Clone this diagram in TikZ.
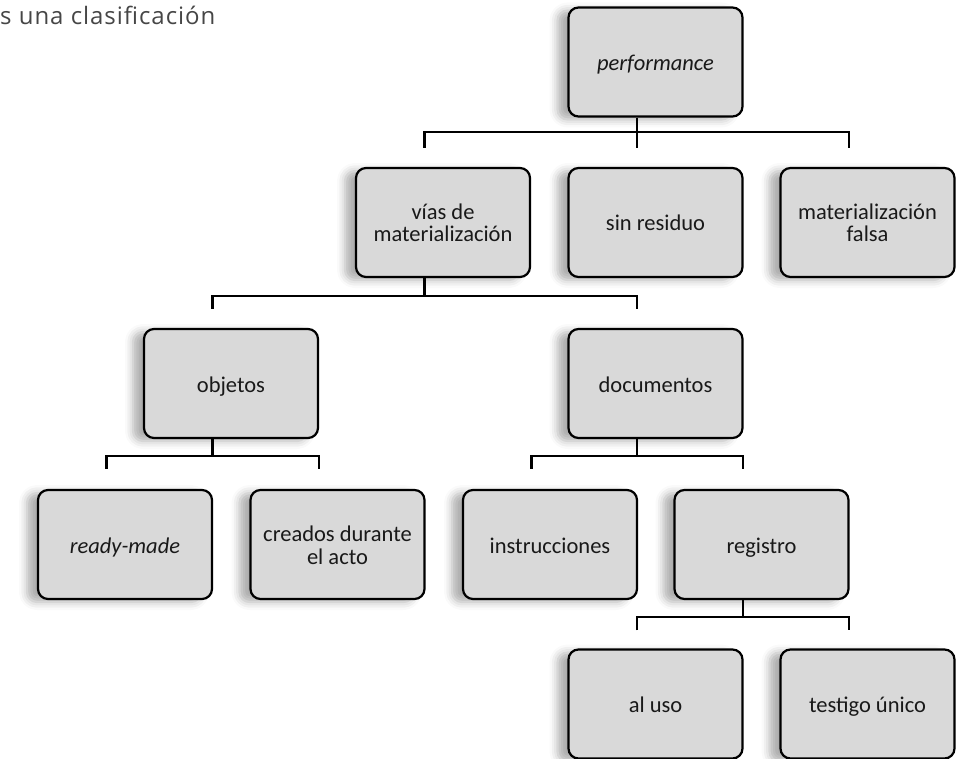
\documentclass[tikz,border=0pt]{standalone}
\usepackage{fontspec}
\setmainfont{Carlito}
\newfontfamily\headfont[LetterSpace=4]{Open Sans}
\usetikzlibrary{shadows.blur}
\definecolor{boxgray}{RGB}{217,217,217}
\definecolor{textgray}{RGB}{25,25,25}
\definecolor{headgray}{RGB}{70,70,70}
\newcommand\boxone[1]{\raisebox{-8.5pt}[0pt][0pt]{#1}}
\newcommand\boxtwo[2]{\raisebox{-19.5pt}[0pt][0pt]{\begin{tabular}[b]{@{}c@{}}#1\\#2\end{tabular}}}
\begin{document}
\begin{tikzpicture}[x=1pt,y=-1pt,
  box/.style={draw=black, line width=2.2pt, rounded corners=10pt, fill=boxgray,
    minimum width=174pt, minimum height=109pt, inner sep=0pt,
    font=\fontsize{22.5}{22}\selectfont, text=textgray,
    blur shadow={shadow xshift=-11pt, shadow yshift=-3pt, shadow opacity=32, shadow blur radius=8pt}},
  conn/.style={draw=black, line width=2.2pt}]
\useasboundingbox (0,0) rectangle (966,759);

\node[anchor=base west, inner sep=0pt, text=headgray, font=\headfont\fontsize{24}{26}\selectfont] (intro) at (0,25) {s una clasificación};

% level 1
\node[box] (perf) at (655.5,62) {\boxone{\itshape performance}};
% level 2
\node[box] (vias) at (443,222.5) {\boxtwo{vías de}{materialización}};
\node[box] (sinres) at (655.5,222.5) {\boxone{sin residuo}};
\node[box] (falsa) at (867.5,222.5) {\boxtwo{materialización}{falsa}};
% level 3
\node[box] (obj) at (231,383.5) {\boxone{objetos}};
\node[box] (docs) at (655.5,383.5) {\boxone{documentos}};
% level 4
\node[box] (ready) at (125,544.5) {\boxone{\itshape ready-made}};
\node[box] (creados) at (337.5,544.5) {\boxtwo{creados durante}{el acto}};
\node[box] (instr) at (550,544.5) {\boxone{instrucciones}};
\node[box] (reg) at (761.5,544.5) {\boxone{registro}};
% level 5
\node[box] (aluso) at (655.5,704) {\boxone{al uso}};
\node[box] (testigo) at (867.5,704) {\boxone{testigo único}};

% connectors level 1 -> 2
\draw[conn] ([xshift=-18.5pt]perf.south) -- ([xshift=-18.5pt,yshift=19pt]sinres.north);
\draw[conn] ([xshift=-18.5pt,yshift=19pt]vias.north) |- ([xshift=-18.5pt,yshift=35pt]sinres.north) -| ([xshift=-18.5pt,yshift=19pt]falsa.north);
% level 2 -> 3
\draw[conn] ([xshift=-18.5pt]vias.south) -- ([xshift=-18.5pt,yshift=-18pt]vias.south);
\draw[conn] ([xshift=-18.5pt,yshift=19pt]obj.north) |- ([xshift=-18.5pt,yshift=-18pt]vias.south) -| ([xshift=-18.5pt,yshift=19pt]docs.north);
% objetos -> level 4
\draw[conn] ([xshift=-18.5pt]obj.south) -- ([xshift=-18.5pt,yshift=-17pt]obj.south);
\draw[conn] ([xshift=-18.5pt,yshift=20pt]ready.north) |- ([xshift=-18.5pt,yshift=-17pt]obj.south) -| ([xshift=-18.5pt,yshift=20pt]creados.north);
% documentos -> level 4
\draw[conn] ([xshift=-18.5pt]docs.south) -- ([xshift=-18.5pt,yshift=-17pt]docs.south);
\draw[conn] ([xshift=-18.5pt,yshift=20pt]instr.north) |- ([xshift=-18.5pt,yshift=-17pt]docs.south) -| ([xshift=-18.5pt,yshift=20pt]reg.north);
% registro -> level 5
\draw[conn] ([xshift=-18.5pt]reg.south) -- ([xshift=-18.5pt,yshift=-17pt]reg.south);
\draw[conn] ([xshift=-18.5pt,yshift=18pt]aluso.north) |- ([xshift=-18.5pt,yshift=-17pt]reg.south) -| ([xshift=-18.5pt,yshift=18pt]testigo.north);
\end{tikzpicture}
\end{document}
